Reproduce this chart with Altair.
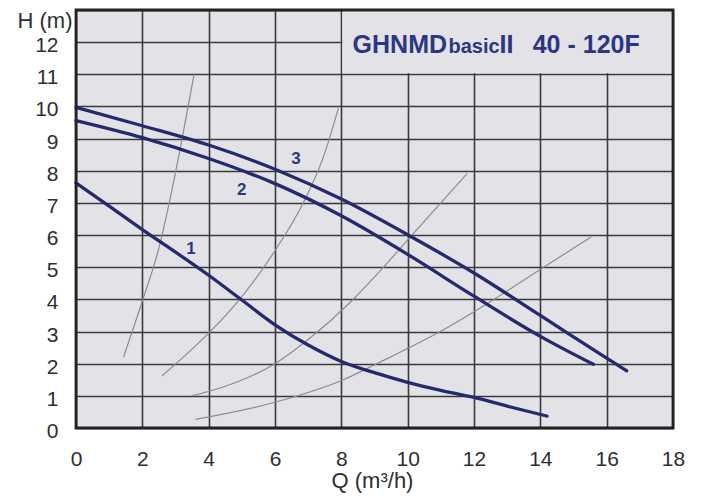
import altair as alt
import pandas as pd

# ---- axis ticks ----
q_ticks = list(range(0, 19, 2))
h_ticks = list(range(0, 14))

# ---- pump curves (Q in m3/h, H in m) ----
c1_q = [0, 1, 2, 3, 4, 5, 6, 7, 8, 9, 10, 11, 12, 13, 14.2]
c1_h = [7.62, 6.9, 6.17, 5.47, 4.75, 3.98, 3.21, 2.58, 2.07, 1.72, 1.42, 1.17, 0.95, 0.68, 0.37]
c2_q = [0, 2, 4, 6, 8, 10, 12, 14, 15.6]
c2_h = [9.56, 9.03, 8.38, 7.6, 6.6, 5.4, 4.1, 2.85, 1.98]
c3_q = [0, 2, 4, 6, 8, 10, 12, 14, 16, 16.6]
c3_h = [9.97, 9.4, 8.8, 8.05, 7.12, 6.01, 4.82, 3.5, 2.17, 1.78]

# ---- system curves (thin grey) ----
sa_q = [1.43, 2.0, 2.5, 2.8, 3.2, 3.56]
sa_h = [2.2, 3.95, 5.6, 6.95, 9.0, 11.0]
sb_q = [2.59, 4.0, 4.94, 5.97, 6.9, 7.45, 7.91]
sb_h = [1.62, 2.95, 4.01, 5.47, 7.1, 8.4, 9.94]
sc_q = [3.49, 4.5, 6.0, 7.0, 8.31, 9.27, 10.13, 11.79]
sc_h = [1.0, 1.3, 2.0, 2.75, 3.95, 5.0, 6.0, 7.91]
sd_q = [3.6, 6.0, 8.06, 9.07, 10.98, 12.6, 14.1, 15.53]
sd_h = [0.27, 0.8, 1.5, 2.0, 3.0, 4.0, 5.0, 5.94]

# ---- curve numbers ----
lab_text = ["1", "2", "3"]
lab_q = [3.47, 5.0, 6.63]
lab_h = [5.56, 7.40, 8.36]

# ---- title pieces ----
title_text = ["GHNMD", "basic", "II", "40 - 120F"]
title_q = [8.34, 11.23, 12.77, 13.77]
title_size = [25, 20, 25, 25]
title_h = 11.65

# title box region (Q from 8 to 18, H from 11 to 13)
box_q = [8, 18]
box_h = [11, 13]

BG = "#e3e2e7"
NAVY = "#252a6e"
TXT_NAVY = "#2c3783"
FONT = "Liberation Sans"


def long(series):
    rows = []
    for name, qs, hs in series:
        for q, h in zip(qs, hs):
            rows.append({"s": name, "Q": q, "H": h})
    return pd.DataFrame(rows)


pump = long([("1", c1_q, c1_h), ("2", c2_q, c2_h), ("3", c3_q, c3_h)])
system = long([("a", sa_q, sa_h), ("b", sb_q, sb_h), ("c", sc_q, sc_h), ("d", sd_q, sd_h)])
labels = pd.DataFrame({"t": lab_text, "Q": lab_q, "H": lab_h})
titles = pd.DataFrame({"t": title_text, "Q": title_q, "H": [title_h] * len(title_text), "size": title_size})
box = pd.DataFrame({"Q": [box_q[0]], "Q2": [box_q[1]], "H": [box_h[1]], "H2": [box_h[0]]})

xscale = alt.Scale(domain=[0, 18], nice=False, zero=False)
yscale = alt.Scale(domain=[0, 13], nice=False, zero=False)

xaxis = alt.Axis(
    values=q_ticks, grid=True, title="Q (m³/h)", labelPadding=20, labelOverlap=False,
    labelFlush=False, labelBound=False,
    titleX=296, titleY=59, titleBaseline="alphabetic", titleAlign="center",
)
yaxis = alt.Axis(
    values=h_ticks, grid=True, title="H (m)", labelPadding=18, labelOffset=3.5,
    labelOverlap=False, labelBound=False, labelFlush=False,
    labelExpr="datum.value >= 13 ? '' : datum.label",
    titleAngle=0, titleAlign="right", titleBaseline="alphabetic",
    titleX=-4, titleY=17,
)

X = alt.X("Q:Q", scale=xscale, axis=xaxis)
Y = alt.Y("H:Q", scale=yscale, axis=yaxis)

cover = alt.Chart(box).mark_rect(fill=BG, xOffset=1, y2Offset=-1).encode(
    x=X, x2="Q2:Q", y=Y, y2="H2:Q",
)

sys_lines = alt.Chart(system).mark_line(
    interpolate="monotone", strokeWidth=1.2, color="#8c8c8c"
).encode(x=X, y=Y, detail="s:N")

pump_lines = alt.Chart(pump).mark_line(
    interpolate="monotone", strokeWidth=3.3, color=NAVY, strokeCap="round"
).encode(x=X, y=Y, detail="s:N")

lab_marks = alt.Chart(labels).mark_text(
    font=FONT, fontSize=17, fontWeight="bold", color=TXT_NAVY, baseline="middle", align="center"
).encode(x=X, y=Y, text="t:N")

title_marks = alt.Chart(titles).mark_text(
    font=FONT, fontWeight="bold", color=TXT_NAVY, baseline="alphabetic", align="left"
).encode(
    x=X, y=Y, text="t:N",
    size=alt.Size("size:Q", scale=None),
)

frame = alt.Chart(pd.DataFrame({"a": [0]})).mark_rect(
    filled=False, stroke="#222222", strokeWidth=2.8
).encode(
    x=alt.value(0), x2=alt.value("width"), y=alt.value(0), y2=alt.value("height")
)

chart = alt.layer(cover, sys_lines, pump_lines, lab_marks, title_marks, frame).properties(
    width=597, height=418,
    padding={"left": 68, "top": 2, "right": 20, "bottom": 68},
    autosize=alt.AutoSizeParams(type="none"),
    background="white",
).configure_view(
    stroke=None, fill=BG
).configure_axis(
    domain=False, ticks=False, tickSize=0, labelOverlap=False,
    gridColor="#3a3a3a", gridWidth=1.6, gridOpacity=1,
    labelFont=FONT, labelFontSize=21, labelColor="#2e2e2e",
    titleFont=FONT, titleFontSize=22, titleFontWeight="normal", titleColor="#2e2e2e",
)

chart.save("out.html", embed_options={"renderer": "svg", "actions": False})
